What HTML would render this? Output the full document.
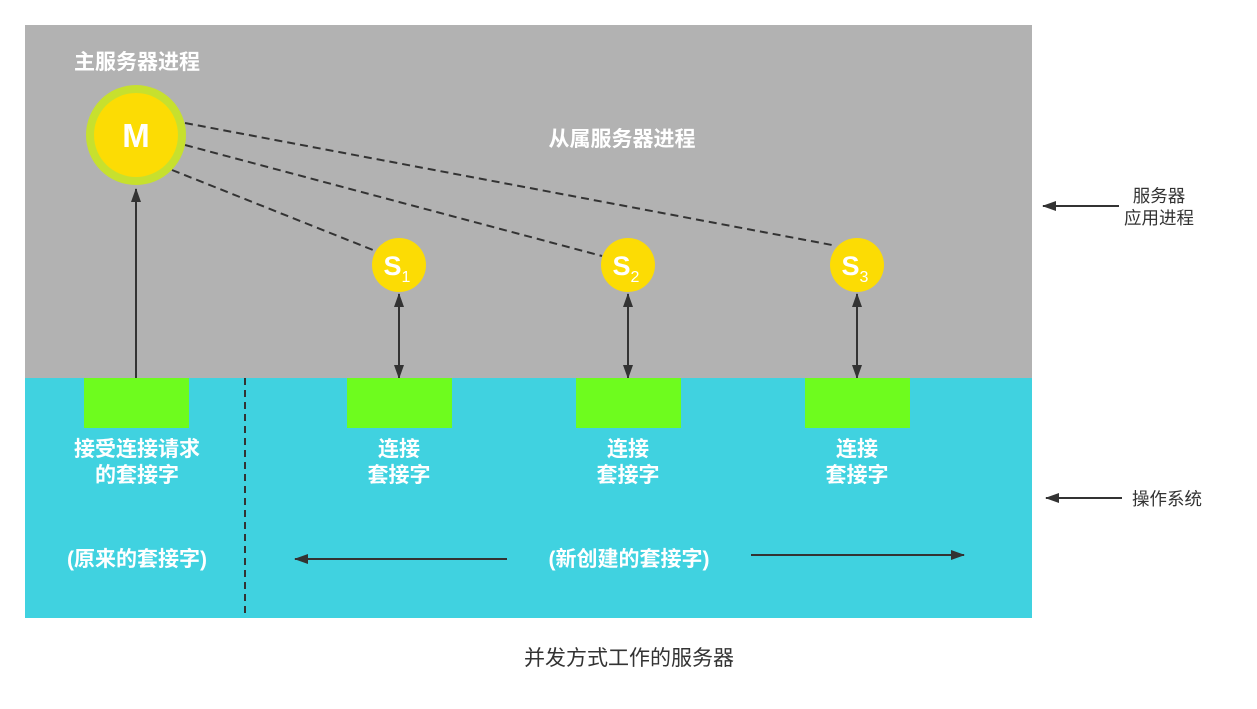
<!DOCTYPE html>
<html><head><meta charset="utf-8"><style>
body{margin:0;background:#fff;width:1257px;height:709px;overflow:hidden}
svg{display:block}
text{font-family:"Liberation Sans","Noto Sans CJK SC",sans-serif}
.w{fill:#fff;font-weight:bold;font-size:21px}
.b{fill:#333;font-size:17.5px}
</style></head><body>
<svg width="1257" height="709" viewBox="0 0 1257 709">
<defs><marker id="a" markerWidth="14" markerHeight="10" refX="13" refY="5" orient="auto" markerUnits="userSpaceOnUse"><path d="M0,0 L14,5 L0,10 z" fill="#333"/></marker>
<marker id="s" markerWidth="14" markerHeight="10" refX="1" refY="5" orient="auto" markerUnits="userSpaceOnUse"><path d="M14,0 L0,5 L14,10 z" fill="#333"/></marker></defs>
<rect x="25" y="25" width="1007" height="353" fill="#b2b2b2"/>
<rect x="25" y="378" width="1007" height="240" fill="#40d2e0"/>
<text x="137" y="69" class="w" text-anchor="middle">主服务器进程</text>
<text x="622" y="146" class="w" text-anchor="middle">从属服务器进程</text>
<g stroke="#333" stroke-width="2" stroke-dasharray="8,5" fill="none">
<line x1="185" y1="123" x2="832" y2="245"/>
<line x1="185" y1="145" x2="602" y2="256"/>
<line x1="172" y1="170" x2="373" y2="250"/>
</g>
<circle cx="136" cy="135" r="50" fill="#c7e02e"/>
<circle cx="136" cy="135" r="42" fill="#fcdc04"/>
<text x="136" y="147" fill="#fff" font-weight="bold" font-size="33" text-anchor="middle">M</text>
<g fill="#fcdc04"><circle cx="399" cy="265" r="27"/><circle cx="628" cy="265" r="27"/><circle cx="857" cy="265" r="27"/></g>
<g fill="#fff" font-weight="bold" font-size="27" text-anchor="middle">
<text x="397" y="275">S<tspan font-size="16" font-weight="normal" dy="7">1</tspan></text>
<text x="626" y="275">S<tspan font-size="16" font-weight="normal" dy="7">2</tspan></text>
<text x="855" y="275">S<tspan font-size="16" font-weight="normal" dy="7">3</tspan></text>
</g>
<g stroke="#333" stroke-width="2">
<line x1="136" y1="378" x2="136" y2="189" marker-end="url(#a)"/>
<line x1="399" y1="294" x2="399" y2="378" marker-end="url(#a)" marker-start="url(#s)"/>
<line x1="628" y1="294" x2="628" y2="378" marker-end="url(#a)" marker-start="url(#s)"/>
<line x1="857" y1="294" x2="857" y2="378" marker-end="url(#a)" marker-start="url(#s)"/>
<line x1="245" y1="378" x2="245" y2="614" stroke-dasharray="7,5"/>
<line x1="507" y1="559" x2="295" y2="559" marker-end="url(#a)"/>
<line x1="751" y1="555" x2="964" y2="555" marker-end="url(#a)"/>
<line x1="1119" y1="206" x2="1043" y2="206" marker-end="url(#a)"/>
<line x1="1122" y1="498" x2="1046" y2="498" marker-end="url(#a)"/>
</g>
<g fill="#6efc1e"><rect x="84" y="378" width="105" height="50"/><rect x="347" y="378" width="105" height="50"/><rect x="576" y="378" width="105" height="50"/><rect x="805" y="378" width="105" height="50"/></g>
<g class="w" text-anchor="middle">
<text x="137" y="456">接受连接请求</text><text x="137" y="482">的套接字</text>
<text x="399" y="456">连接</text><text x="399" y="482">套接字</text>
<text x="628" y="456">连接</text><text x="628" y="482">套接字</text>
<text x="857" y="456">连接</text><text x="857" y="482">套接字</text>
<text x="137" y="566">(原来的套接字)</text>
<text x="629" y="566">(新创建的套接字)</text>
</g>
<g class="b" text-anchor="middle">
<text x="1159" y="202">服务器</text><text x="1159" y="224">应用进程</text>
<text x="1167" y="505">操作系统</text>
<text x="629" y="665" font-size="21">并发方式工作的服务器</text>
</g>
</svg>
</body></html>
